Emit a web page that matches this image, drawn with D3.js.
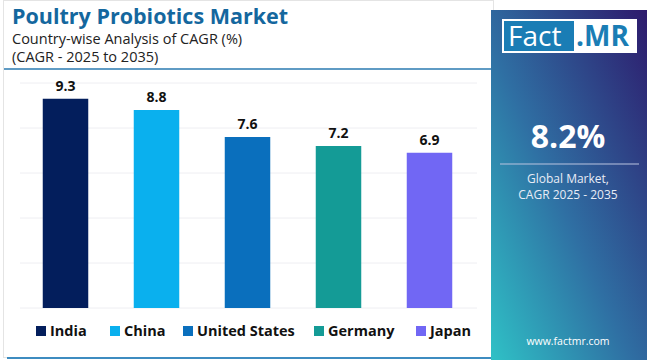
<!DOCTYPE html>
<html>
<head>
<meta charset="utf-8">
<script src="https://cdn.jsdelivr.net/npm/d3@7"></script>
<style>
  body { margin: 0; background: #ffffff; }
  svg { display: block; font-family: "Open Sans", sans-serif; }
</style>
</head>
<body>
<svg id="drawing_region"></svg>
<script>
// data
const countries = ['India', 'China', 'United States', 'Germany', 'Japan'];
const cagr = [9.3, 8.8, 7.6, 7.2, 6.9];
const colors = ['#031e5c', '#0ab0ee', '#0a6fbd', '#149b96', '#7167f4'];
const yticks = [0, 2, 4, 6, 8, 10];
const globalCagr = '8.2%';

const width = 650, height = 360;
const svg = d3.select('#drawing_region')
    .attr('width', width)
    .attr('height', height);

// outer card
svg.append('rect')
    .attr('x', 3.5).attr('y', 0.5)
    .attr('width', 490).attr('height', 357)
    .attr('fill', '#fff')
    .attr('stroke', '#e4e4e4');

// title block
svg.append('text')
    .attr('x', 12).attr('y', 24)
    .attr('font-size', 21.5).attr('font-weight', 700)
    .attr('fill', '#14679e')
    .text('Poultry Probiotics Market');
svg.append('text')
    .attr('x', 12).attr('y', 44)
    .attr('font-size', 14.5).attr('fill', '#222')
    .text('Country-wise Analysis of CAGR (%)');
svg.append('text')
    .attr('x', 12).attr('y', 62)
    .attr('font-size', 14.5).attr('fill', '#222')
    .text('(CAGR - 2025 to 2035)');
svg.append('line')
    .attr('x1', 4).attr('x2', 491)
    .attr('y1', 69).attr('y2', 69)
    .attr('stroke', '#2a7ab0').attr('stroke-width', 1.5);

// chart
const xscale = d3.scaleBand()
    .domain(countries)
    .range([20, 475])
    .paddingInner(0.5)
    .paddingOuter(0.25);

const yscale = d3.scaleLinear()
    .domain([0, 10])
    .range([308, 83]);

const grid = svg.append('g');
grid.selectAll('line')
    .data(yticks)
    .join('line')
    .attr('x1', 20).attr('x2', 477)
    .attr('y1', d => yscale(d)).attr('y2', d => yscale(d))
    .attr('stroke', '#eeeef2').attr('stroke-width', 1);

const rows = countries.map((c, i) => ({ label: c, value: cagr[i], color: colors[i] }));

svg.append('g').selectAll('rect')
    .data(rows)
    .join('rect')
    .attr('x', d => xscale(d.label))
    .attr('y', d => yscale(d.value))
    .attr('width', xscale.bandwidth())
    .attr('height', d => yscale(0) - yscale(d.value))
    .attr('fill', d => d.color);

svg.append('g').selectAll('text')
    .data(rows)
    .join('text')
    .attr('x', d => xscale(d.label) + xscale.bandwidth() / 2)
    .attr('y', d => yscale(d.value) - 8)
    .attr('text-anchor', 'middle')
    .attr('font-size', 14).attr('font-weight', 700)
    .attr('fill', '#111')
    .text(d => d.value.toFixed(1));

// legend
const legendX = [36, 110, 183, 314, 416];
const legend = svg.append('g').selectAll('g')
    .data(rows)
    .join('g')
    .attr('transform', (d, i) => `translate(${legendX[i]}, 331)`);
legend.append('rect')
    .attr('x', 0).attr('y', -5)
    .attr('width', 10).attr('height', 10)
    .attr('fill', d => d.color);
legend.append('text')
    .attr('x', 14).attr('y', 5)
    .attr('font-size', 14.5).attr('font-weight', 700)
    .attr('fill', '#111')
    .text(d => d.label);

svg.append('line')
    .attr('x1', 7).attr('x2', 491)
    .attr('y1', 358).attr('y2', 358)
    .attr('stroke', '#3d8cc0').attr('stroke-width', 2);

// side panel
const defs = svg.append('defs');
const grad = defs.append('linearGradient')
    .attr('id', 'panel_grad')
    .attr('x1', '0%').attr('y1', '100%')
    .attr('x2', '100%').attr('y2', '0%');
grad.append('stop').attr('offset', '0%').attr('stop-color', '#2fc1c6');
grad.append('stop').attr('offset', '45%').attr('stop-color', '#2f6fa3');
grad.append('stop').attr('offset', '100%').attr('stop-color', '#2d1a6c');

const px = 491, pw = 156;
svg.append('rect')
    .attr('x', px).attr('y', 10)
    .attr('width', pw).attr('height', 350)
    .attr('fill', 'url(#panel_grad)');

// logo
svg.append('rect')
    .attr('x', 502).attr('y', 19)
    .attr('width', 135).attr('height', 34)
    .attr('fill', '#fff');
svg.append('rect')
    .attr('x', 504).attr('y', 21)
    .attr('width', 70).attr('height', 30)
    .attr('fill', '#1a7db5');
svg.append('text')
    .attr('x', 508).attr('y', 46)
    .attr('font-size', 28).attr('fill', '#fff')
    .text('Fact');
svg.append('text')
    .attr('x', 576).attr('y', 46)
    .attr('font-size', 28).attr('font-weight', 700)
    .attr('fill', '#1a7db5')
    .text('.MR');

const cx = px + pw / 2 - 1;
svg.append('text')
    .attr('x', cx).attr('y', 148)
    .attr('text-anchor', 'middle')
    .attr('font-size', 32).attr('font-weight', 700)
    .attr('fill', '#fff')
    .text(globalCagr);
svg.append('line')
    .attr('x1', 500).attr('x2', 639)
    .attr('y1', 164).attr('y2', 164)
    .attr('stroke', '#b9c4e0').attr('stroke-width', 1.2);
svg.append('text')
    .attr('x', cx).attr('y', 183)
    .attr('text-anchor', 'middle')
    .attr('font-size', 12).attr('fill', '#e8ecf6')
    .text('Global Market,');
svg.append('text')
    .attr('x', cx).attr('y', 199)
    .attr('text-anchor', 'middle')
    .attr('font-size', 12).attr('fill', '#e8ecf6')
    .text('CAGR 2025 - 2035');
svg.append('text')
    .attr('x', cx).attr('y', 345)
    .attr('text-anchor', 'middle')
    .attr('font-size', 10.5).attr('fill', '#fff')
    .text('www.factmr.com');
</script>
</body>
</html>
